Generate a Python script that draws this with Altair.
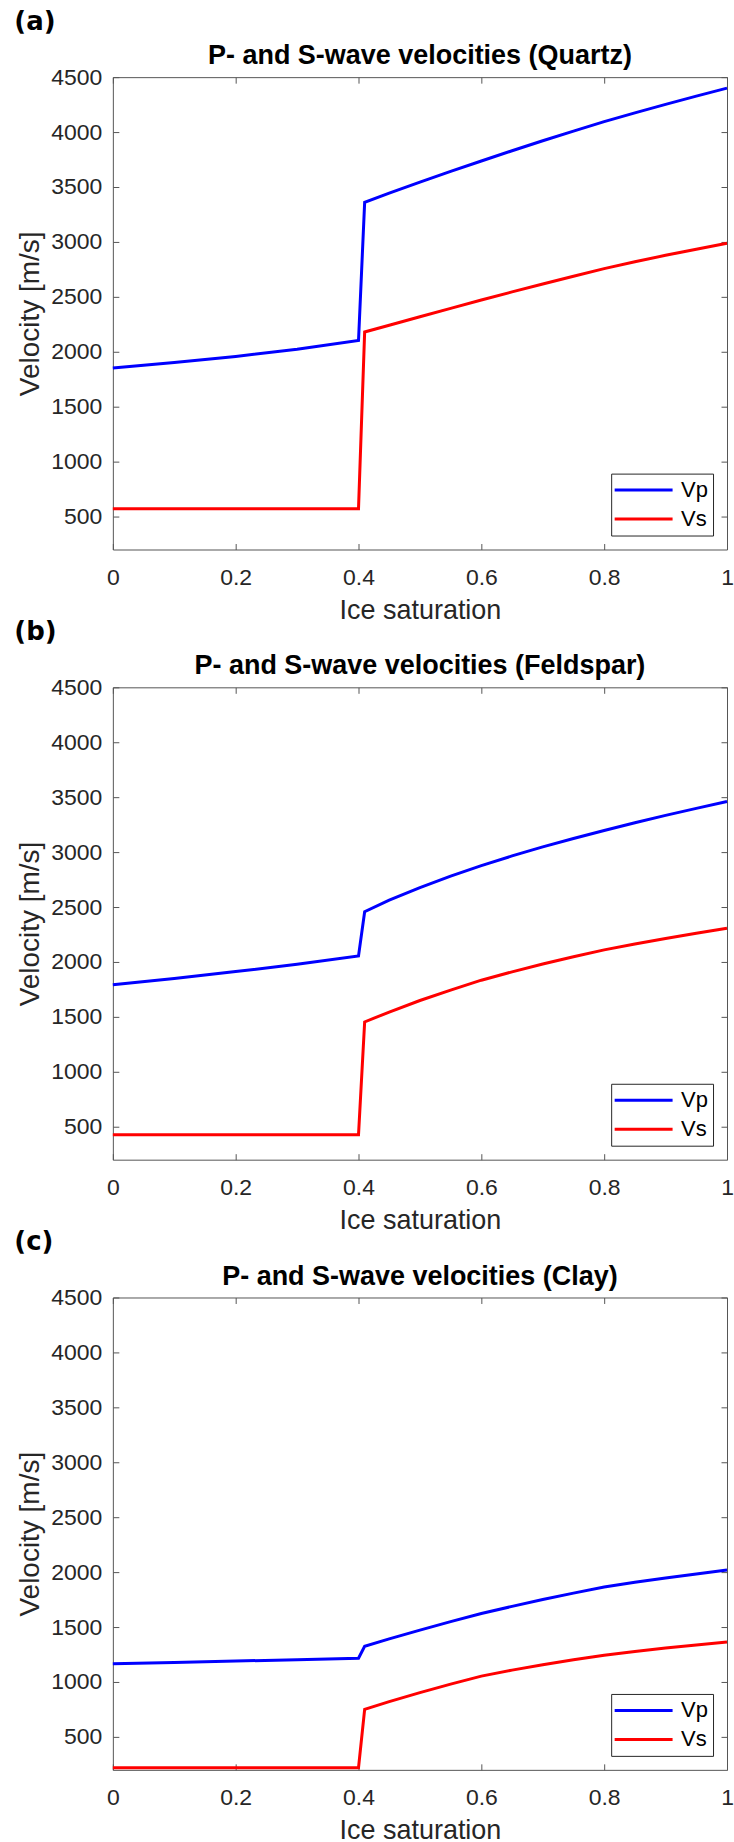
import altair as alt
import pandas as pd

SAT = [0, 0.1, 0.2, 0.3, 0.4, 0.41, 0.45, 0.5, 0.55, 0.6, 0.65, 0.7, 0.75, 0.8, 0.85, 0.9, 0.95, 1.0]

QUARTZ_VP = [1853, 1903, 1958, 2023, 2103, 3360, 3444, 3544, 3642, 3737, 3830, 3921, 4009, 4095, 4175, 4252, 4327, 4400]
QUARTZ_VS = [572, 572, 572, 572, 572, 2180, 2242, 2319, 2395, 2471, 2545, 2617, 2688, 2757, 2819, 2878, 2934, 2988]

FELDSPAR_VP = [1793, 1850, 1912, 1980, 2054, 2457, 2562, 2677, 2782, 2877, 2965, 3047, 3124, 3197, 3267, 3334, 3398, 3460]
FELDSPAR_VS = [427, 427, 427, 427, 427, 1454, 1544, 1649, 1744, 1834, 1910, 1981, 2048, 2110, 2164, 2214, 2262, 2307]

CLAY_VP = [1165, 1178, 1190, 1203, 1216, 1324, 1392, 1472, 1549, 1623, 1688, 1750, 1809, 1865, 1907, 1946, 1983, 2019]
CLAY_VS = [220, 220, 220, 220, 220, 751, 821, 903, 980, 1053, 1108, 1157, 1202, 1244, 1278, 1309, 1337, 1363]

PANELS = [
    ("(a)", "P- and S-wave velocities (Quartz)", QUARTZ_VP, QUARTZ_VS),
    ("(b)", "P- and S-wave velocities (Feldspar)", FELDSPAR_VP, FELDSPAR_VS),
    ("(c)", "P- and S-wave velocities (Clay)", CLAY_VP, CLAY_VS),
]

X_TICKS = [0, 0.2, 0.4, 0.6, 0.8, 1.0]
Y_TICKS = [500, 1000, 1500, 2000, 2500, 3000, 3500, 4000, 4500]
Y_DOMAIN = [200, 4500]

W, H = 615, 473
FONT = "Liberation Sans"
TXT = "#262626"
FRAME = "#555555"
TICK = "#555555"

xscale = alt.Scale(domain=[0, 1], nice=False, zero=False)
yscale = alt.Scale(domain=Y_DOMAIN, nice=False, zero=False)


def tick_axis(orient, offset, values):
    return alt.Axis(orient=orient, offset=offset, values=values, labels=False, title=None,
                    domain=False, ticks=True, tickSize=6, tickWidth=1, tickColor=TICK,
                    grid=False)


def make_panel(label, title, vp, vs):
    df = pd.DataFrame({
        "sat": SAT + SAT,
        "vel": vp + vs,
        "wave": ["Vp"] * len(SAT) + ["Vs"] * len(SAT),
    })
    lines = alt.Chart(df).mark_line(strokeWidth=3).encode(
        x=alt.X("sat:Q", scale=xscale, axis=alt.Axis(
            values=X_TICKS, title="Ice saturation", ticks=False, domain=False, format="~g",
            labelFontSize=23, labelFont=FONT, labelColor=TXT, labelPadding=17,
            titleFontSize=27, titleFont=FONT, titleColor=TXT, titleFontWeight="normal",
            titlePadding=8, grid=False, labelFlush=False)),
        y=alt.Y("vel:Q", scale=yscale, axis=alt.Axis(
            values=Y_TICKS, title="Velocity [m/s]", ticks=False, domain=False, format="d",
            labelFontSize=23, labelFont=FONT, labelColor=TXT, labelPadding=11,
            titleFontSize=28, titleFont=FONT, titleColor=TXT, titleFontWeight="normal",
            titlePadding=6, grid=False)),
        color=alt.Color("wave:N", scale=alt.Scale(domain=["Vp", "Vs"], range=["#0000ff", "#ff0000"]),
                        legend=alt.Legend(
                            title=None, orient="bottom-right", offset=14,
                            strokeColor="#262626", fillColor="white", padding=5,
                            labelFontSize=22, labelFont=FONT, labelColor="black",
                            symbolType="M-2.9,0H2.9", symbolSize=400, symbolStrokeWidth=3,
                            symbolOffset=16, labelOffset=26, rowPadding=6)),
    )
    ticks1 = alt.Chart(df).mark_line(opacity=0).encode(
        x=alt.X("sat:Q", scale=xscale, axis=tick_axis("bottom", -H, X_TICKS)),
        y=alt.Y("vel:Q", scale=yscale, axis=tick_axis("right", -W, Y_TICKS)),
    )
    ticks2 = alt.Chart(df).mark_line(opacity=0).encode(
        x=alt.X("sat:Q", scale=xscale, axis=tick_axis("top", -H, X_TICKS)),
        y=alt.Y("vel:Q", scale=yscale, axis=tick_axis("left", -W, Y_TICKS)),
    )
    layered = alt.layer(lines, ticks1, ticks2).resolve_axis(
        x="independent", y="independent"
    ).properties(
        width=W, height=H,
        title=alt.TitleParams(title, fontSize=27, font=FONT, fontWeight="bold",
                              color="black", offset=-4, anchor="middle"),
    )
    return alt.vconcat(layered, title=alt.TitleParams(
        label, anchor="start", font="DejaVu Sans", fontSize=26, fontWeight="bold",
        color="black", offset=7, dx=-2)).resolve_scale(color="independent").resolve_legend(color="independent")


chart = alt.vconcat(*[make_panel(*p) for p in PANELS], spacing=-6).resolve_scale(
    color="independent"
).resolve_legend(color="independent").properties(
    padding={"left": 14, "top": 7, "right": 0, "bottom": 0}
).configure_view(stroke=FRAME, strokeWidth=1)

chart.save("out.html", embed_options={"renderer": "svg", "actions": False})
